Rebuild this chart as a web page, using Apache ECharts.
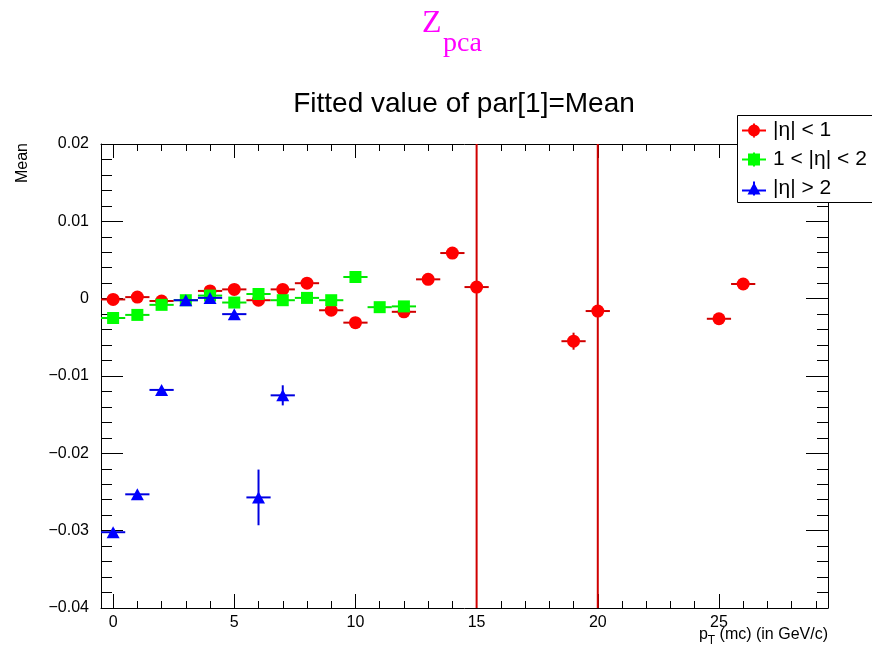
<!DOCTYPE html>
<html>
<head>
<meta charset="utf-8">
<script src="https://cdn.jsdelivr.net/npm/echarts@6/dist/echarts.min.js"></script>
<style>html,body{margin:0;padding:0;background:#fff;}#c{width:872px;height:656px;}</style>
</head>
<body>
<div id="c"></div>
<script>
// ---- data ----
const redX   = [0, 1, 2, 4, 5, 6, 7, 8, 9, 10, 12, 13, 14, 15, 19, 20, 25, 26];
const redY   = [-0.0001, 0.0002, -0.0003, 0.0010, 0.0012, -0.0002, 0.0012, 0.0020, -0.0015, -0.0031, -0.0017, 0.0025, 0.0059, 0.0015, -0.0055, -0.0016, -0.0026, 0.0019];
const redErr = [0.0003, 0.0003, 0.0003, 0.0003, 0.0003, 0.0003, 0.0003, 0.0003, 0.0003, 0.0003, 0.0003, 0.0003, 0.0003, 0.1, 0.0011, 0.1, 0.0003, 0.0003];

const greenX   = [0, 1, 2, 3, 4, 5, 6, 7, 8, 9, 10, 11, 12];
const greenY   = [-0.0025, -0.0021, -0.0008, -0.0002, 0.0004, -0.0005, 0.0006, -0.0002, 0.0001, -0.0002, 0.0028, -0.0011, -0.0010];
const greenErr = [0.0003, 0.0003, 0.0003, 0.0003, 0.0003, 0.0003, 0.0003, 0.0003, 0.0003, 0.0003, 0.0003, 0.0003, 0.0003];

const blueX   = [0, 1, 2, 3, 4, 5, 6, 7];
const blueY   = [-0.0302, -0.0253, -0.0118, -0.0002, 0.0001, -0.0020, -0.0257, -0.0125];
const blueErr = [0.0005, 0.0003, 0.0003, 0.0003, 0.0003, 0.0003, 0.0036, 0.0013];

const seriesNames = ['|\u03b7| < 1', '1 < |\u03b7| < 2', '|\u03b7| > 2'];
const xMajorTicks = [0, 5, 10, 15, 20, 25];
const xMinorTicks = [0,1,2,3,4,5,6,7,8,9,10,11,12,13,14,15,16,17,18,19,20,21,22,23,24,25,26,27,28,29];
const binHalfWidth = 0.5;

// ---- helpers ----
function zip3(a, b, c) { return a.map((v, i) => [v, b[i], c[i]]); }

function errRenderer(color) {
  return function (params, api) {
    const x = api.value(0), y = api.value(1), e = api.value(2);
    const cs = params.coordSys;
    const pL = api.coord([x - binHalfWidth, y]);
    const pR = api.coord([x + binHalfWidth, y]);
    const pT = api.coord([x, y + e]);
    const pB = api.coord([x, y - e]);
    const top = Math.max(pT[1], cs.y);
    const bot = Math.min(pB[1], cs.y + cs.height);
    const left = Math.max(pL[0], cs.x);
    const right = Math.min(pR[0], cs.x + cs.width);
    return {
      type: 'group',
      children: [
        { type: 'line', shape: { x1: left, y1: pL[1], x2: right, y2: pR[1] }, style: { stroke: color, lineWidth: 2 } },
        { type: 'line', shape: { x1: pT[0], y1: top, x2: pB[0], y2: bot }, style: { stroke: color, lineWidth: 2 } }
      ]
    };
  };
}

function yFmt(v) {
  if (Math.abs(v) < 1e-9) return '0';
  return v < 0 ? '\u2212' + Math.abs(v).toFixed(2) : v.toFixed(2);
}

const FONT = 'Liberation Sans, Arial, Helvetica, sans-serif';
const XMIN = -0.5, XMAX = 29.5;

const iconCircle = 'path://M0,6h24v2h-24z M6,7a6,6 0 1,1 12,0a6,6 0 1,1 -12,0z M11,0h2v14h-2z';
const iconSquare = 'path://M0,6h24v2h-24z M6,1h12v12h-12z M11,0h2v14h-2z';
const iconTri    = 'path://M0,8h24v2h-24z M12,1L18.5,13L5.5,13z M11,0h2v14h-2z';

const chart = echarts.init(document.getElementById('c'), null, { renderer: 'canvas' });

const lineOn  = { show: true,  onZero: false, lineStyle: { color: '#000', width: 1 } };
const lineOff = { show: false, onZero: false };

const baseX = { type: 'value', min: XMIN, max: XMAX, splitLine: { show: false } };

const option = {
  backgroundColor: '#fff',
  animation: false,
  textStyle: { fontFamily: FONT },
  grid: { left: 101, top: 144, right: 44, bottom: 48, containLabel: false },
  xAxis: [
    Object.assign({}, baseX, {
      position: 'bottom', axisLine: lineOn,
      axisTick: { show: true, inside: true, length: 14, customValues: xMajorTicks, lineStyle: { color: '#000' } },
      axisLabel: { show: true, customValues: xMajorTicks, fontSize: 16, color: '#000', margin: 7, fontFamily: FONT }
    }),
    Object.assign({}, baseX, {
      position: 'bottom', axisLine: lineOff,
      axisTick: { show: true, inside: true, length: 7, customValues: xMinorTicks, lineStyle: { color: '#000' } },
      axisLabel: { show: false }
    }),
    Object.assign({}, baseX, {
      position: 'top', axisLine: lineOn,
      axisTick: { show: true, inside: true, length: 14, customValues: xMajorTicks, lineStyle: { color: '#000' } },
      axisLabel: { show: false }
    }),
    Object.assign({}, baseX, {
      position: 'top', axisLine: lineOff,
      axisTick: { show: true, inside: true, length: 7, customValues: xMinorTicks, lineStyle: { color: '#000' } },
      axisLabel: { show: false }
    })
  ],
  yAxis: [
    {
      type: 'value', position: 'left', min: -0.04, max: 0.02, interval: 0.01,
      splitLine: { show: false }, axisLine: lineOn,
      axisTick: { show: true, inside: true, length: 22, lineStyle: { color: '#000' } },
      minorTick: { show: true, splitNumber: 5, length: 11, lineStyle: { color: '#000' } },
      axisLabel: { formatter: yFmt, fontSize: 16, color: '#000', margin: 12, fontFamily: FONT }
    },
    {
      type: 'value', position: 'right', min: -0.04, max: 0.02, interval: 0.01,
      splitLine: { show: false }, axisLine: lineOn,
      axisTick: { show: true, inside: true, length: 22, lineStyle: { color: '#000' } },
      minorTick: { show: true, splitNumber: 5, length: 11, lineStyle: { color: '#000' } },
      axisLabel: { show: false }
    }
  ],
  legend: {
    orient: 'vertical', left: 742, top: 120, z: 60,
    itemWidth: 24, itemHeight: 14, itemGap: 8,
    padding: 0,
    textStyle: { fontSize: 21, color: '#000', fontFamily: FONT, padding: [0, 0, 0, 2] },
    data: [
      { name: seriesNames[0], icon: iconCircle, itemStyle: { color: '#ff0000' } },
      { name: seriesNames[1], icon: iconSquare, itemStyle: { color: '#00ff00' } },
      { name: seriesNames[2], icon: iconTri, itemStyle: { color: '#0000ff' } }
    ],
    selectedMode: false
  },
  graphic: [
    { type: 'rect', z: 50, shape: { x: 737.5, y: 115.5, width: 140, height: 87 }, style: { fill: '#fff', stroke: '#000', lineWidth: 1 } },
    { type: 'text', x: 422, y: 40, style: { text: 'Z', fill: '#ff00ff', font: '32px "Liberation Serif", "Times New Roman", serif', textVerticalAlign: 'bottom' } },
    { type: 'text', x: 443, y: 58, style: { text: 'pca', fill: '#ff00ff', font: '28px "Liberation Serif", "Times New Roman", serif', textVerticalAlign: 'bottom' } },
    { type: 'text', x: 464, y: 104, style: { text: 'Fitted value of par[1]=Mean', fill: '#000', font: '28px "Liberation Sans", Arial, sans-serif', textAlign: 'center', textVerticalAlign: 'middle' } },
    { type: 'text', x: 23, y: 143, rotation: Math.PI / 2, style: { text: 'Mean', fill: '#000', font: '16px "Liberation Sans", Arial, sans-serif', textAlign: 'right', textVerticalAlign: 'middle' } },
    { type: 'text', x: 828, y: 647, style: {
        text: '{n|p}{s|T}{n| (mc) (in GeV/c)}',
        textAlign: 'right', textVerticalAlign: 'bottom',
        rich: {
          n: { fontSize: 16, fontFamily: FONT, fill: '#000', color: '#000' },
          s: { fontSize: 12, fontFamily: FONT, fill: '#000', color: '#000', padding: [12, 0, 0, 0] }
        }
      } }
  ],
  series: [
    { type: 'custom', name: 'errRed', renderItem: errRenderer('#d00000'), data: zip3(redX, redY, redErr), encode: { x: 0, y: 1 }, z: 2, silent: true },
    { type: 'scatter', name: seriesNames[0], symbol: 'circle', symbolSize: 13, itemStyle: { color: '#ff0000', opacity: 1 }, data: redX.map((x, i) => [x, redY[i]]), z: 3 },
    { type: 'custom', name: 'errGreen', renderItem: errRenderer('#00e600'), data: zip3(greenX, greenY, greenErr), encode: { x: 0, y: 1 }, z: 4, silent: true },
    { type: 'scatter', name: seriesNames[1], symbol: 'rect', symbolSize: 12, itemStyle: { color: '#00ff00', opacity: 1 }, data: greenX.map((x, i) => [x, greenY[i]]), z: 5 },
    { type: 'custom', name: 'errBlue', renderItem: errRenderer('#0000e0'), data: zip3(blueX, blueY, blueErr), encode: { x: 0, y: 1 }, z: 6, silent: true },
    { type: 'scatter', name: seriesNames[2], symbol: 'triangle', symbolSize: [13, 12], itemStyle: { color: '#0000ff', opacity: 1 }, data: blueX.map((x, i) => [x, blueY[i]]), z: 7 }
  ]
};
chart.setOption(option);
</script>
</body>
</html>
